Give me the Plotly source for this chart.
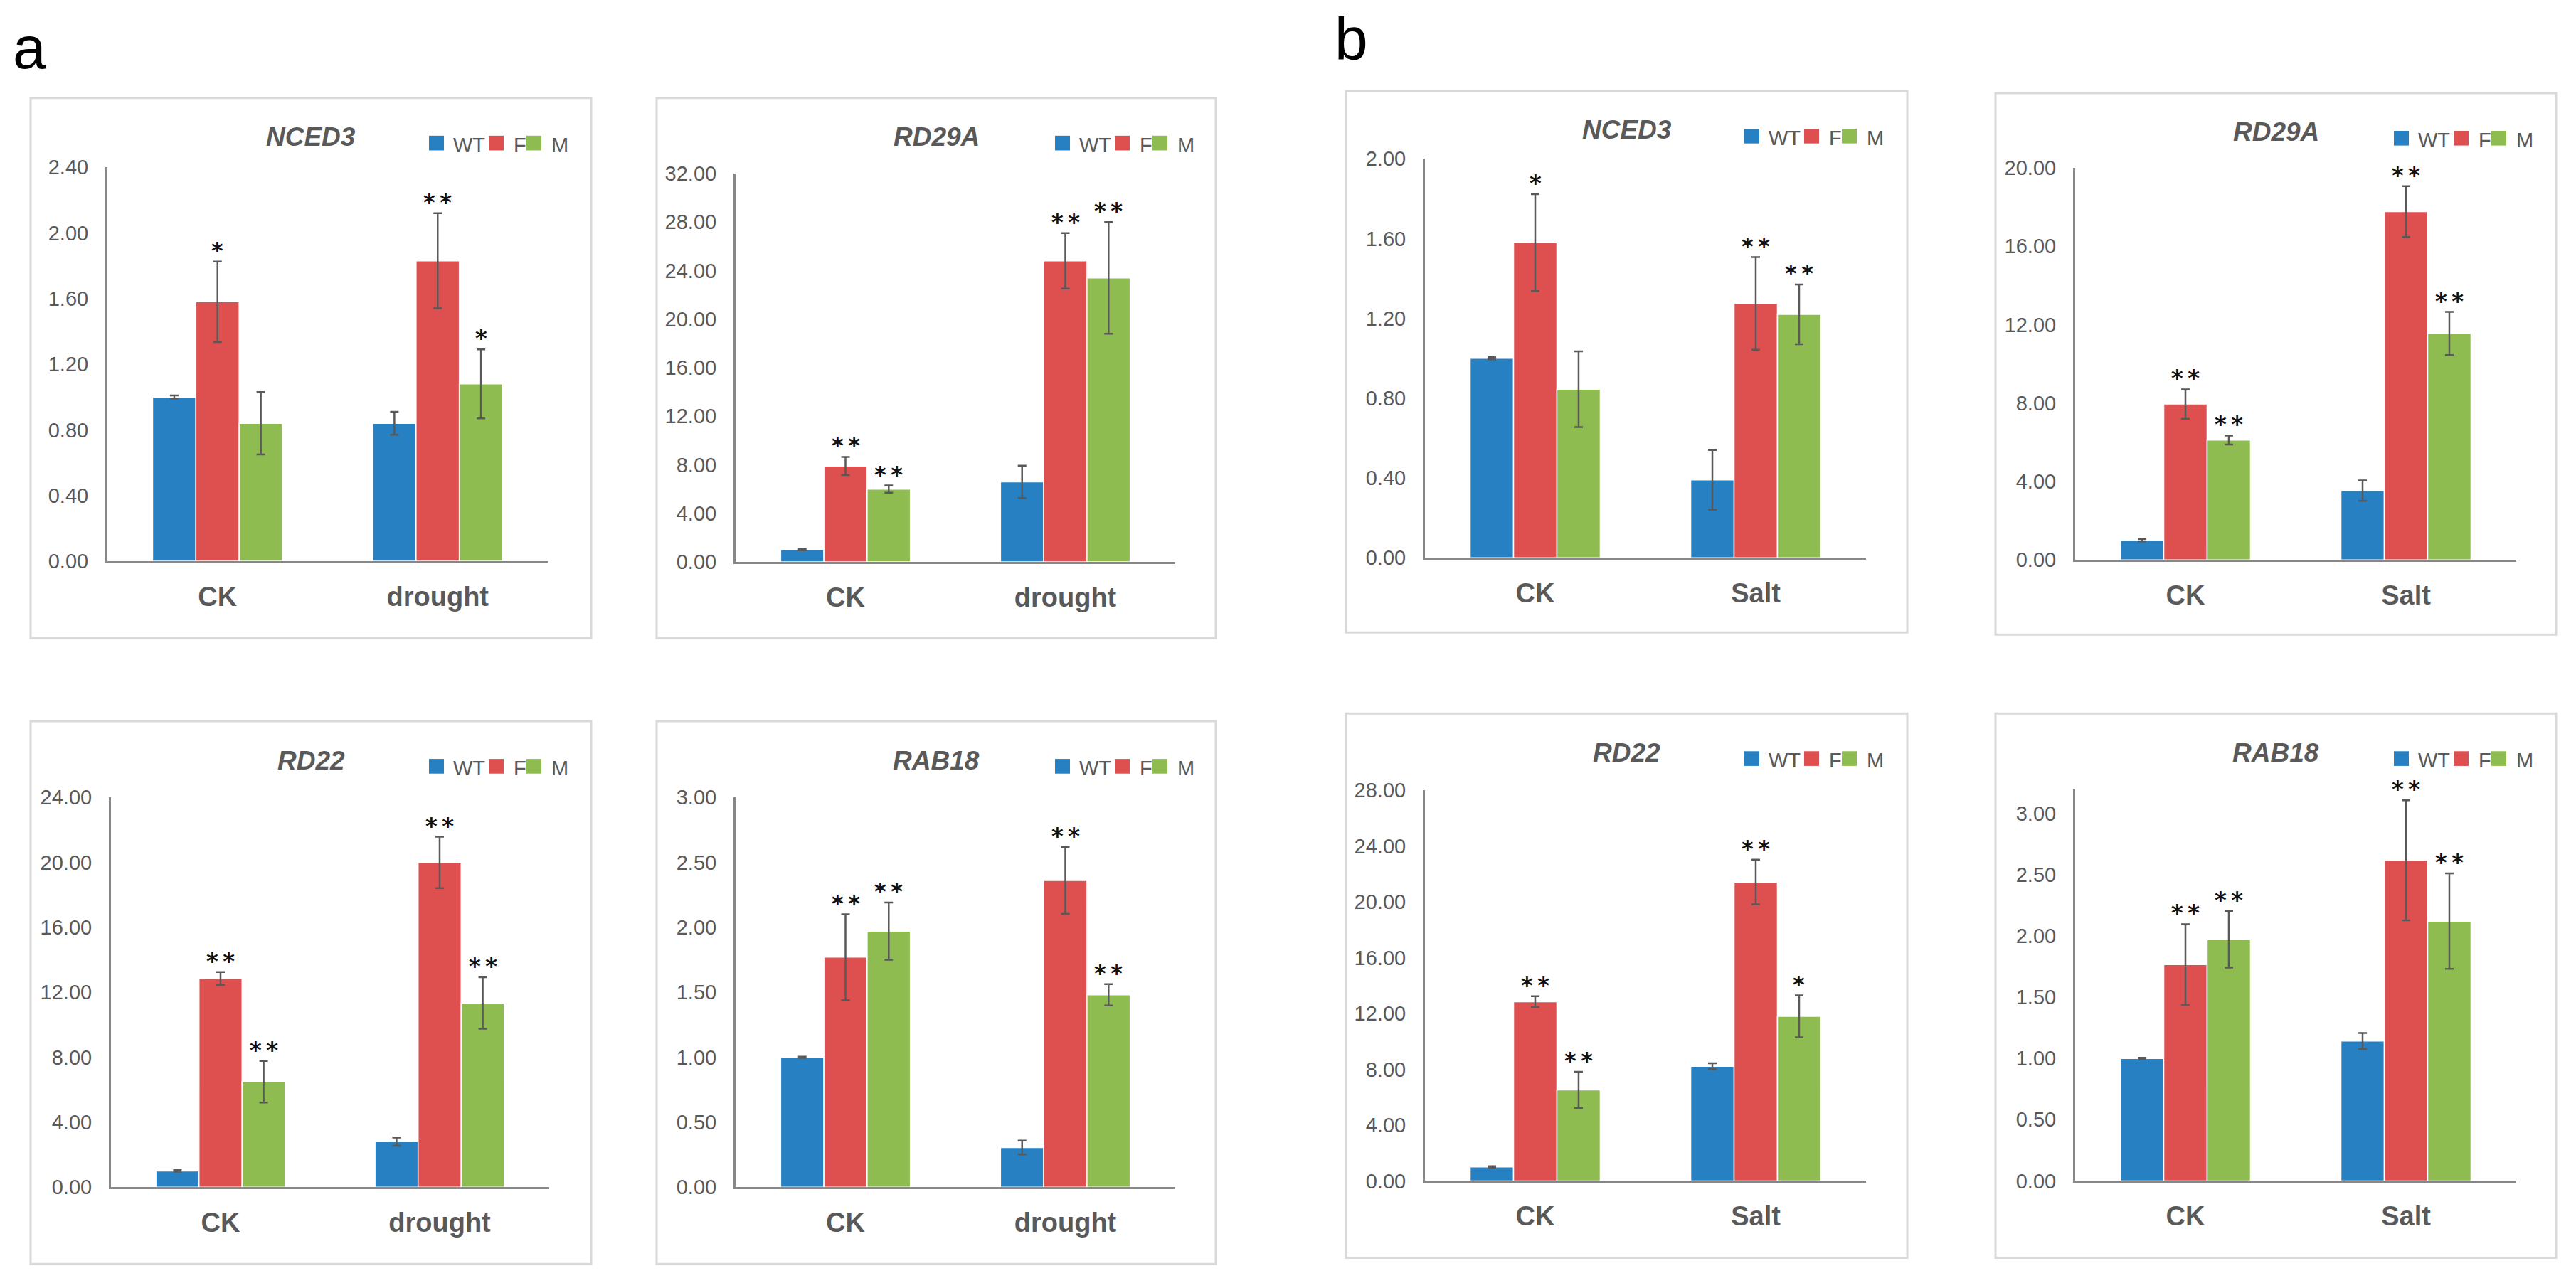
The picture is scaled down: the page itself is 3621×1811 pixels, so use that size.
import plotly.graph_objects as go

# ---------------- data ----------------
series_names = ["WT", "F", "M"]
cats_drought = ["CK", "drought"]
cats_salt = ["CK", "Salt"]

# (a) drought
nced3_drought_mean = [[1.00, 0.84], [1.58, 1.83], [0.84, 1.08]]
nced3_drought_sd = [[0.01, 0.07], [0.245, 0.29], [0.19, 0.21]]
nced3_drought_sig = [["", ""], ["*", "**"], ["", "*"]]

rd29a_drought_mean = [[1.00, 6.60], [7.90, 24.80], [6.00, 23.40]]
rd29a_drought_sd = [[0.05, 1.33], [0.75, 2.28], [0.30, 4.60]]
rd29a_drought_sig = [["", ""], ["**", "**"], ["**", "**"]]

rd22_drought_mean = [[1.00, 2.80], [12.85, 19.99], [6.49, 11.34]]
rd22_drought_sd = [[0.05, 0.25], [0.40, 1.58], [1.28, 1.59]]
rd22_drought_sig = [["", ""], ["**", "**"], ["**", "**"]]

rab18_drought_mean = [[1.00, 0.305], [1.77, 2.36], [1.97, 1.48]]
rab18_drought_sd = [[0.005, 0.053], [0.33, 0.257], [0.22, 0.082]]
rab18_drought_sig = [["", ""], ["**", "**"], ["**", "**"]]

# (b) salt
nced3_salt_mean = [[1.00, 0.39], [1.58, 1.275], [0.845, 1.22]]
nced3_salt_sd = [[0.005, 0.15], [0.243, 0.232], [0.19, 0.15]]
nced3_salt_sig = [["", ""], ["*", "**"], ["", "**"]]

rd29a_salt_mean = [[1.00, 3.53], [7.95, 17.77], [6.11, 11.55]]
rd29a_salt_sd = [[0.06, 0.52], [0.75, 1.30], [0.23, 1.10]]
rd29a_salt_sig = [["", ""], ["**", "**"], ["**", "**"]]

rd22_salt_mean = [[1.00, 8.22], [12.85, 21.43], [6.52, 11.80]]
rd22_salt_sd = [[0.05, 0.21], [0.39, 1.60], [1.30, 1.50]]
rd22_salt_sig = [["", ""], ["**", "**"], ["**", "*"]]

rab18_salt_mean = [[1.00, 1.142], [1.766, 2.618], [1.971, 2.121]]
rab18_salt_sd = [[0.005, 0.065], [0.33, 0.49], [0.23, 0.39]]
rab18_salt_sig = [["", ""], ["**", "**"], ["**", "**"]]

# ---------------- styling / layout ----------------
W, H = 3621, 1811
colors = ["#2680C2", "#DE5050", "#8EBC50"]
grey_txt = "#595959"
axis_col = "#878787"
FONT = "Liberation Sans"
BARGAP = 0.41

panels = [
    # gene, cats, mean, sd, sig, box(x0,y0,x1,y1), plot(x0,y0,x1,y1), ymax, dtick, top tick
    ("NCED3", cats_drought, nced3_drought_mean, nced3_drought_sd, nced3_drought_sig,
     (43, 124, 831, 897), (151, 223, 770, 787), 2.4, 0.4, 2.4),
    ("RD29A", cats_drought, rd29a_drought_mean, rd29a_drought_sd, rd29a_drought_sig,
     (923, 124, 1709, 897), (1034, 232, 1652, 788), 32, 4, 32),
    ("NCED3", cats_salt, nced3_salt_mean, nced3_salt_sd, nced3_salt_sig,
     (1892, 114, 2681, 889), (2003, 211, 2623, 782), 2.0, 0.4, 2.0),
    ("RD29A", cats_salt, rd29a_salt_mean, rd29a_salt_sd, rd29a_salt_sig,
     (2805, 117, 3593, 892), (2917, 224, 3537, 785), 20, 4, 20),
    ("RD22", cats_drought, rd22_drought_mean, rd22_drought_sd, rd22_drought_sig,
     (43, 1016, 831, 1793), (156, 1125, 772, 1683), 24, 4, 24),
    ("RAB18", cats_drought, rab18_drought_mean, rab18_drought_sd, rab18_drought_sig,
     (923, 1016, 1709, 1793), (1034, 1125, 1652, 1683), 3.0, 0.5, 3.0),
    ("RD22", cats_salt, rd22_salt_mean, rd22_salt_sd, rd22_salt_sig,
     (1892, 1005, 2681, 1784), (2003, 1115, 2623, 1674), 28, 4, 28),
    ("RAB18", cats_salt, rab18_salt_mean, rab18_salt_sd, rab18_salt_sig,
     (2805, 1005, 3593, 1784), (2917, 1113, 3537, 1674), 3.2, 0.5, 3.0),
]

fig = go.Figure()
shapes = []
annotations = []
layout_axes = {}

def px_x(v):
    return v / W

def px_y(v):
    return 1 - v / H

bw = (1 - BARGAP) / 3

for k, (gene, cats, mean, sd, sig, box, plot, ymax, dtick, toptick) in enumerate(panels):
    n = k + 1
    xa = "x" if n == 1 else f"x{n}"
    ya = "y" if n == 1 else f"y{n}"
    xpos = list(range(len(cats)))
    for j, name in enumerate(series_names):
        fig.add_trace(go.Bar(
            x=xpos, y=mean[j], name=name,
            marker=dict(color=colors[j], line=dict(color="white", width=1.5)),
            error_y=dict(type="data", array=sd[j], visible=True,
                         color="#595959", thickness=2.5, width=6),
            xaxis=xa, yaxis=ya, showlegend=False, offsetgroup=str(j),
        ))
        for i in xpos:
            if sig[j][i]:
                annotations.append(dict(
                    x=i + (j - 1) * bw, y=mean[j][i] + sd[j][i],
                    xref=xa, yref=ya, text=sig[j][i].replace("**", "*\u2009*"),
                    showarrow=False, xanchor="center", yanchor="middle", yshift=16,
                    font=dict(family="DejaVu Sans", size=32, color="#111111", weight="bold"),
                ))
    bx0, by0, bx1, by1 = box
    px0, py0, px1, py1 = plot
    layout_axes["xaxis" if n == 1 else f"xaxis{n}"] = dict(
        domain=[px_x(px0), px_x(px1)], range=[-0.5, len(cats) - 0.5],
        tickvals=xpos, ticktext=cats, anchor=ya,
        showline=True, linecolor=axis_col, linewidth=3, showgrid=False, zeroline=False,
        ticks="outside", ticklen=14, tickcolor="rgba(0,0,0,0)",
        tickfont=dict(family=FONT, size=38, color=grey_txt, weight="bold"),
        fixedrange=True,
    )
    tvals = []
    t = 0.0
    while t <= toptick + 1e-9:
        tvals.append(round(t, 4))
        t += dtick
    layout_axes["yaxis" if n == 1 else f"yaxis{n}"] = dict(
        domain=[px_y(py1), px_y(py0)], range=[0, ymax], tickvals=tvals,
        tickformat=".2f", anchor=xa,
        showline=True, linecolor=axis_col, linewidth=3, showgrid=False, zeroline=False,
        ticks="outside", ticklen=18, tickcolor="rgba(0,0,0,0)",
        tickfont=dict(family=FONT, size=29, color=grey_txt),
        fixedrange=True,
    )
    # panel frame
    shapes.append(dict(type="rect", xref="paper", yref="paper",
                       x0=px_x(bx0), x1=px_x(bx1), y0=px_y(by1), y1=px_y(by0),
                       line=dict(color="#D9D9D9", width=3), fillcolor="white", layer="below"))
    # title
    annotations.append(dict(x=px_x((bx0 + bx1) / 2), y=px_y(by0 + 56), xref="paper", yref="paper",
                            text=gene, showarrow=False, xanchor="center", yanchor="middle",
                            font=dict(family=FONT, size=37, color=grey_txt, weight="bold", style="italic")))
    # legend (manual, per panel)
    sq_x = [560, 644, 697]
    tx_x = [592, 677, 730]
    for j, name in enumerate(series_names):
        shapes.append(dict(type="rect", xref="paper", yref="paper",
                           x0=px_x(bx0 + sq_x[j]), x1=px_x(bx0 + sq_x[j] + 21),
                           y0=px_y(by0 + 75), y1=px_y(by0 + 54),
                           line=dict(width=0), fillcolor=colors[j], layer="above"))
        annotations.append(dict(x=px_x(bx0 + tx_x[j]), y=px_y(by0 + 67), xref="paper", yref="paper",
                                text=name, showarrow=False, xanchor="left", yanchor="middle",
                                font=dict(family=FONT, size=29, color=grey_txt)))

# panel letters
annotations.append(dict(x=px_x(16), y=px_y(52), xref="paper", yref="paper", text="a",
                        showarrow=False, xanchor="left", yanchor="middle",
                        font=dict(family=FONT, size=84, color="black")))
annotations.append(dict(x=px_x(1874), y=px_y(40), xref="paper", yref="paper", text="b",
                        showarrow=False, xanchor="left", yanchor="middle",
                        font=dict(family=FONT, size=84, color="black")))

fig.update_layout(
    width=W, height=H, margin=dict(l=0, r=0, t=0, b=0),
    paper_bgcolor="white", plot_bgcolor="rgba(0,0,0,0)",
    barmode="group", bargap=BARGAP, bargroupgap=0,
    shapes=shapes, annotations=annotations, showlegend=False,
    **layout_axes,
)

fig.write_html("out.html", config={"displayModeBar": False},
               post_script="document.body.style.margin='0';document.body.style.overflow='hidden';")
